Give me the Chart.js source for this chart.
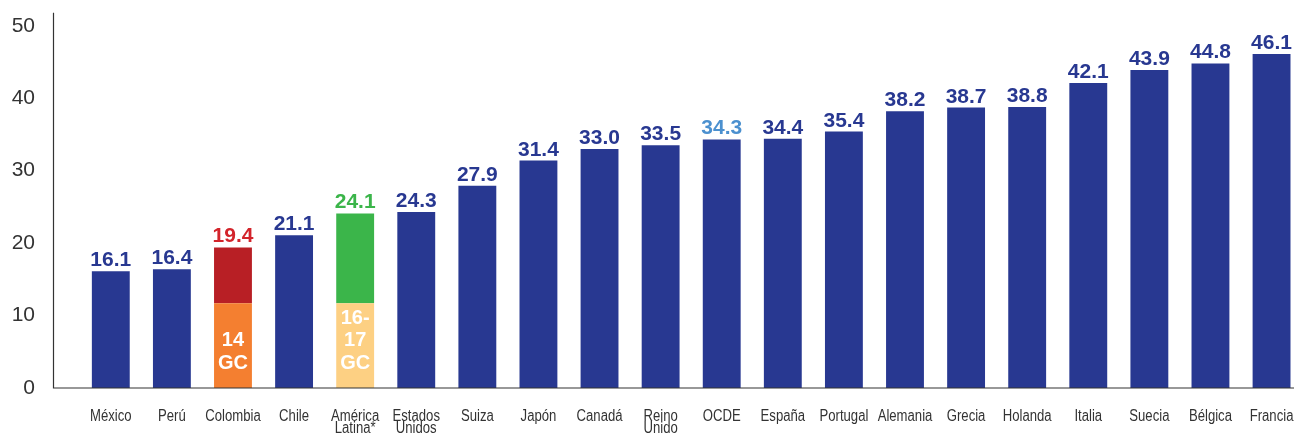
<!DOCTYPE html>
<html>
<head>
<meta charset="utf-8">
<script src="https://cdn.jsdelivr.net/npm/chart.js@4"></script>
<style>
  html, body { margin: 0; padding: 0; overflow: hidden; background: #fff; }
  canvas { display: block; }
</style>
</head>
<body>
<canvas id="chart" width="1310" height="438"></canvas>
<script>
// datos
const categories = ['México', 'Perú', 'Colombia', 'Chile', ['América', 'Latina*'], ['Estados', 'Unidos'],
  'Suiza', 'Japón', 'Canadá', ['Reino', 'Unido'], 'OCDE', 'España', 'Portugal', 'Alemania',
  'Grecia', 'Holanda', 'Italia', 'Suecia', 'Bélgica', 'Francia'];
const values = [16.1, 16.4, 19.4, 21.1, 24.1, 24.3, 27.9, 31.4, 33.0, 33.5, 34.3, 34.4, 35.4, 38.2,
  38.7, 38.8, 42.1, 43.9, 44.8, 46.1];
// parte baja de las barras partidas (grados completados)
const baseSegment = [null, null, 11.7, null, 11.7, null, null, null, null, null, null, null, null, null,
  null, null, null, null, null, null];
const baseText = [null, null, ['14', 'GC'], null, ['16-', '17', 'GC'], null, null, null, null, null,
  null, null, null, null, null, null, null, null, null, null];
const yTicks = [0, 10, 20, 30, 40, 50];

const NAVY = '#283891';
const barColors = values.map((v, i) => {
  if (i === 2) return '#b81f25';
  if (i === 4) return '#3bb54a';
  if (i === 10) return '#1271ba';
  return NAVY;
});
const baseColors = values.map((v, i) => i === 2 ? '#f47f30' : (i === 4 ? '#fdd083' : NAVY));
const labelColors = values.map((v, i) => {
  if (i === 2) return '#d3242b';
  if (i === 4) return '#3bb54a';
  if (i === 10) return '#4b90cf';
  return NAVY;
});

const FONT = '"Liberation Sans", Arial, sans-serif';

// barras: parte baja + parte alta
const lowData = values.map((v, i) => baseSegment[i] != null ? baseSegment[i] : v);
const highData = values.map((v, i) => baseSegment[i] != null ? +(v - baseSegment[i]).toFixed(1) : null);

const AXIS_X = 53.5, AREA_LEFT = 80.25, AREA_TOP = 12.7, AREA_BOTTOM = 388;

const labelsPlugin = {
  id: 'labelsPlugin',
  afterDatasetsDraw(chart) {
    const ctx = chart.ctx;
    const x = chart.scales.x, y = chart.scales.y;
    ctx.save();
    // ejes
    ctx.strokeStyle = '#333';
    ctx.lineWidth = 1.2;
    ctx.beginPath();
    ctx.moveTo(AXIS_X, AREA_TOP);
    ctx.lineTo(AXIS_X, AREA_BOTTOM);
    ctx.lineTo(chart.width, AREA_BOTTOM);
    ctx.stroke();
    // valores encima de las barras
    ctx.textAlign = 'center';
    ctx.textBaseline = 'alphabetic';
    ctx.font = 'bold 21px ' + FONT;
    values.forEach((v, i) => {
      ctx.fillStyle = labelColors[i];
      ctx.fillText(v.toFixed(1), x.getPixelForValue(i), y.getPixelForValue(v) - 5);
    });
    // textos dentro de la parte baja
    ctx.fillStyle = '#fff';
    ctx.font = 'bold 20px ' + FONT;
    ctx.textBaseline = 'middle';
    baseText.forEach((lines, i) => {
      if (!lines) return;
      const cx = x.getPixelForValue(i);
      const bottom = y.getPixelForValue(0);
      lines.forEach((t, k) => {
        ctx.fillText(t, cx, bottom - 25 - (lines.length - 1 - k) * 22.5);
      });
    });
    // etiquetas del eje x (letra estrecha)
    ctx.fillStyle = '#333';
    ctx.font = '16px ' + FONT;
    categories.forEach((c, i) => {
      const lines = Array.isArray(c) ? c : [c];
      lines.forEach((t, k) => {
        ctx.save();
        ctx.translate(x.getPixelForValue(i), 417 + k * 12);
        ctx.scale(0.82, 1);
        ctx.fillText(t, 0, 0);
        ctx.restore();
      });
    });
    ctx.restore();
  }
};

new Chart(document.getElementById('chart'), {
  type: 'bar',
  data: {
    labels: categories,
    datasets: [
      { data: lowData, backgroundColor: baseColors, barPercentage: 0.62, categoryPercentage: 1 },
      { data: highData, backgroundColor: barColors, barPercentage: 0.62, categoryPercentage: 1 }
    ]
  },
  options: {
    responsive: false,
    animation: false,
    layout: { autoPadding: false, padding: { top: AREA_TOP, right: 1310 - 1302.1, left: 0, bottom: 0 } },
    plugins: { legend: { display: false }, tooltip: { enabled: false } },
    scales: {
      x: {
        stacked: true,
        grid: { display: false, drawTicks: false },
        border: { display: false },
        ticks: { display: false },
        afterFit(scale) {
          scale.height = 438 - AREA_BOTTOM;
          scale.paddingLeft = 0; scale.paddingRight = 0;
        }
      },
      y: {
        stacked: true,
        min: 0, max: 51.8,
        grid: { display: false, drawTicks: false },
        border: { display: false },
        afterFit(scale) {
          scale.width = AREA_LEFT;
          scale.paddingTop = 0; scale.paddingBottom = 0;
        },
        afterBuildTicks(scale) { scale.ticks = yTicks.map(v => ({ value: v })); },
        ticks: {
          padding: AREA_LEFT - 35,
          color: '#333',
          font: { family: FONT, size: 21 }
        }
      }
    }
  },
  plugins: [labelsPlugin]
});
</script>
</body>
</html>
